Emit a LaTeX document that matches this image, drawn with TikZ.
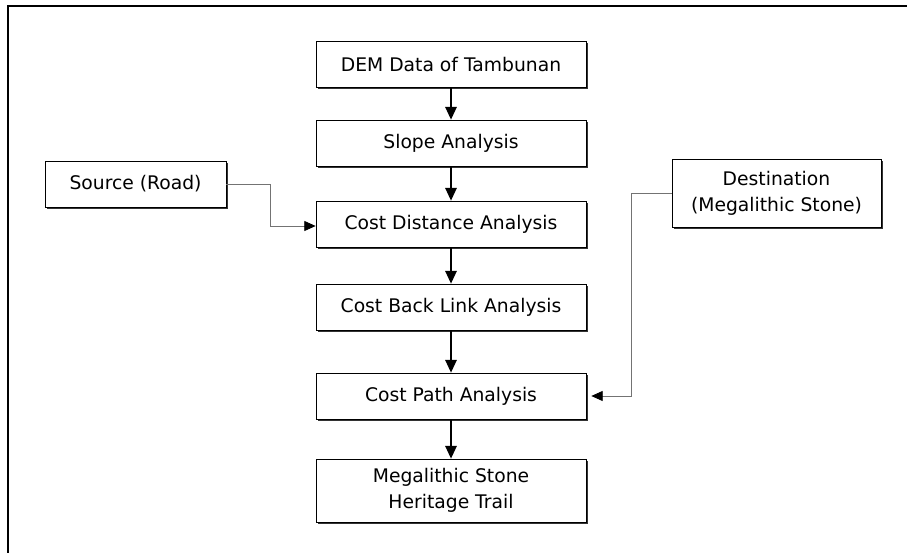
\documentclass[tikz,border=0pt]{standalone}
\usepackage{fontspec}
\setmainfont{DejaVu Sans}
\usetikzlibrary{shadows}
\usetikzlibrary{arrows.meta}

\begin{document}
\begin{tikzpicture}[%
x=.3mm, y=-.3mm,
>={Triangle[length=3.8mm, width=3.4mm]},
box/.style={draw, line width=.6pt, fill=white, align=center, inner sep=0pt,
  minimum width=81mm, minimum height=13.8mm,
  font=\fontsize{16}{22}\selectfont,
  drop shadow={shadow xshift=1.3pt, shadow yshift=-1.6pt, opacity=1, fill=black!80}},
flow/.style={->, line width=1.4pt},
feed/.style={-{Triangle[length=3.4mm, width=3mm, color=black]}, line width=.7pt, draw=black!55},
frame/.style={line width=2.4pt},
]

\pgfmathsetmacro{\colx}{451}
\pgfmathsetmacro{\srcx}{135.5}
\pgfmathsetmacro{\destx}{776.5}

\useasboundingbox (0,0) rectangle (907,553);
\draw[frame] (8,553)--(8,6)--(907,6);

\node[box](dem)   at (\colx,64.5){DEM Data of Tambunan};
\node[box](slope) at (\colx,143){Slope Analysis};
\node[box](cd)    at (\colx,224){Cost Distance Analysis};
\node[box](cbl)   at (\colx,307){Cost Back Link Analysis};
\node[box](cp)    at (\colx,396){Cost Path Analysis};
\node[box, minimum height=18.9mm](trail) at (\colx,490.5){Megalithic Stone\\Heritage Trail};

\node[box, minimum width=54.3mm](src) at (\srcx,184){Source (Road)};
\node[box, minimum width=62.7mm, minimum height=20.4mm](dest) at (\destx,193){Destination\\(Megalithic Stone)};

\draw[flow] (dem)--(slope);
\draw[flow] (slope)--(cd);
\draw[flow] (cd)--(cbl);
\draw[flow] (cbl)--(cp);
\draw[flow] (cp)--(trail);

\coordinate (srcbend) at (270,184);
\draw[feed] (src.east)--(srcbend) |- ([yshift=-.6mm]cd.west);

\coordinate (destbend) at (631,193);
\draw[feed] (dest.west)--(destbend) |- ([xshift=1.5mm]cp.east);

\end{tikzpicture}
\end{document}
